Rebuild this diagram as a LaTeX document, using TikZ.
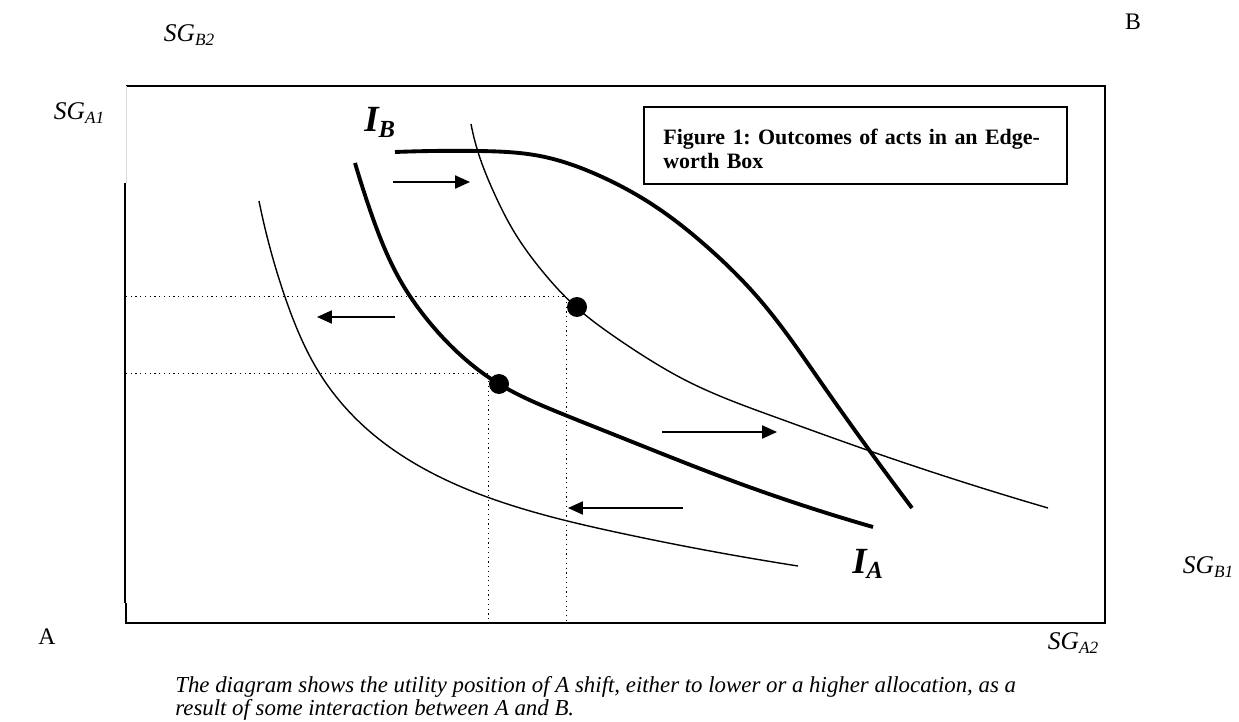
\documentclass[tikz,border=0pt]{standalone}
\usepackage{fontspec}
\setmainfont{Liberation Serif}
\usetikzlibrary{arrows.meta,hobby}

\newcommand{\sglab}[1]{\fontsize{14.5}{14.5}\selectfont\itshape SG\raisebox{-0.35ex}{\fontsize{9.8}{9.8}\selectfont #1}}
\newcommand{\indlab}[1]{\fontsize{21}{21}\selectfont\bfseries\itshape I\raisebox{-0.3ex}{\fontsize{14}{14}\selectfont #1}}

\tikzset{
  frame/.style={line width=1.1pt},
  indiff/.style={line width=0.8pt},
  indiffbold/.style={line width=2.2pt},
  shiftarrow/.style={line width=0.85pt,-{Triangle[length=8.5pt,width=7.5pt]}},
  guide/.style={dotted,line width=0.7pt},
  dot/.style={circle,fill,inner sep=0pt,minimum size=0.4cm},
}

\begin{document}
\begin{tikzpicture}[x=0.02cm,y=-0.02cm]
  \useasboundingbox (0,0) rectangle (1239,722);
  % box
  \coordinate (o) at (126,623);
  \draw[frame] (126,86)--(1105,86)--(1105,623)--(126,623)--(126,603);
  \draw[gray!30,line width=0.5pt] (126,86)--(126,183);
  \draw[line width=1.3pt] (125,183)--(125,603);
  % corner labels
  \node (sgb2) at (189,35) {\sglab{B2}};
  \node (sga1) at (79,113) {\sglab{A1}};
  \node (sgb1) at (1208,567) {\sglab{B1}};
  \node (sga2) at (1073,643) {\sglab{A2}};
  \node[font=\fontsize{13.5}{13.5}\selectfont] (ownerB) at (1133,22) {B};
  \node[font=\fontsize{13.5}{13.5}\selectfont] (ownerA) at (47,637) {A};
  % title box
  \node[draw,frame,anchor=north west,minimum width=8.46cm,minimum height=1.54cm] (titlebox) at (643,106) {};
  \node[anchor=north west,inner sep=0pt,text width=7.8cm,align=left,
        font=\fontsize{12.5}{13.2}\selectfont\bfseries\frenchspacing] (title) at (663,129)
        {Figure 1: Outcomes of acts in an Edge-\\worth Box};
  % indifference curves
  \draw[indiff,use Hobby shortcut] (259,201)..(285,297)..(320,374)..(368,430)
     ..(430,472)..(520,508)..(620,533)..(798,566);
  \draw[indiffbold,use Hobby shortcut] (355,163)..(370,210)..(400,280)..(430,323)
     ..(499,384)..(560,413)..(620,437)..(730,480)..(873,527);
  \draw[indiff,use Hobby shortcut] (471,124)..(478,152)..(495,195)..(513,230)
     ..(543,272)..(576,307)..(615,337)..(650,360)..(685,380)..(775,417)..(867,450)..(1048,508);
  \draw[indiffbold,use Hobby shortcut] (395,152)..(478,151)..(540,156)..(600,176)
     ..(650,203)..(705,245)..(760,300)..(820,381)..(912,508);
  \node[anchor=base west,inner sep=0pt] (ib) at (364,132) {\indlab{B}};
  \node[anchor=base west,inner sep=0pt] (ia) at (852,573) {\indlab{A}};
  % allocations
  \node[dot] (pthigh) at (577,307) {};
  \node[dot] (ptlow) at (499,384) {};
  \draw[guide] (o |- pthigh.north) -| (pthigh.west |- o);
  \draw[guide] (o |- ptlow.north) -| (ptlow.west |- o);
  % shifts
  \draw[shiftarrow] (393,182)--(470,182);
  \draw[shiftarrow] (395,317)--(317,317);
  \draw[shiftarrow] (662,432)--(777,432);
  \draw[shiftarrow] (683,508)--(568,508);
  % note
  \node[anchor=base west,inner sep=0pt,font=\fontsize{13}{13}\selectfont\itshape] (note1) at (175,692)
     {The diagram shows the utility position of A shift, either to lower or a higher allocation, as a};
  \node[anchor=base west,inner sep=0pt,font=\fontsize{13}{13}\selectfont\itshape] (note2) at (175,715)
     {result of some interaction between A and B.};
\end{tikzpicture}
\end{document}
